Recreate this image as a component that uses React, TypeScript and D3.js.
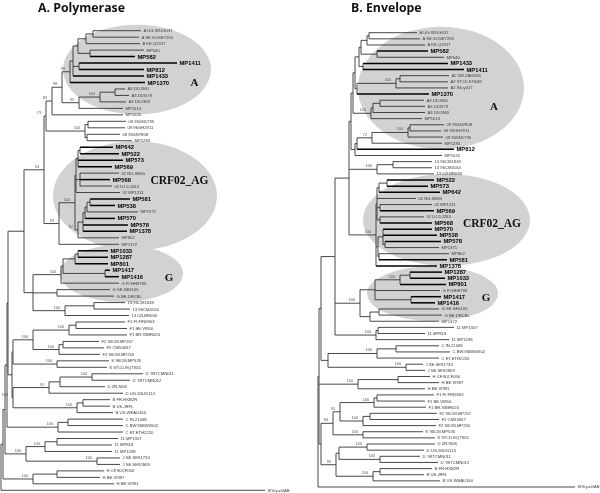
import React, { useMemo } from "react";
import * as d3 from "d3";

// Study isolates shown in bold
const STUDY_SAMPLES = ["MP582","MP1411","MP812","MP1433","MP1370","MP642","MP522","MP573","MP569","MP568","MP581","MP538","MP570","MP578","MP1378","MP1033","MP1287","MP801","MP1417","MP1416"];

// ---------- A. Polymerase tree (branch lengths in 0.001 subst./site, internal labels = bootstrap) ----------
const POL_AREF = "(((A UG.92UG037:48,A SE.SOSE7253:46):7,A KE.Q2317:54):8,(MP640:54,MP582:45):12)";
const POL_A = `((${POL_AREF}:5,(MP1411:98,MP812:65):6,MP1433:71):3,MP1370:75)99`;
const POL_A3 = "(((A3 DDJ360:10,A3 DDI579:14):15,A3 DDJ369:26)100:21,MP1014:44)95";
const POL_09 = "((09 95SN1795:38,09 96GH2911:37):3,(09 95SN7808:33,MP1283:45):2)100";
const POL_CRF02 = "((((MP642:33,MP522:39):2,MP573:45,MP569:34):2,(02 NG.IBNG:39,MP568:30,02 DJ.DJ263:32):4,02 MP1211:44):1,(((((MP581:40,MP538:25):3,MP1371:51):2,MP570:30):2,MP578:45,MP1378:44):5,MP802:41)92:3)100";
const POL_G = "((((MP1033:30,MP1287:30):3,MP801:33):12,(MP1417:5,MP1416:14):42):2,G FI.HH8793:58)100";
const POL_GREF = "(G SE.SE6165:53,G BE.DRCBL:57)";
const POL_13 = "((13 96CM1849:31,13 96CM4164:36):29,13 02LBR060:64)100";
const POL_F = "(((F1 FI.FIN9363:49,F1 BE.VI850:51):7,F1 BR.93BR020:58)100:36,((F2 96CM.MP257:36,F2 CM53657:41):4,F2 96CM.MP255:41)100:26)100";
const POL_K = "(K 96CM.MP535:52,K 97CD.EQTB11:50)100";
const POL_D = "(((D' 99TCMN011:51,D' 99TCMN012:38)100:32,D ZR.NDK:45):11,D UG.94UG114:74)92";
const POL_B = "((B FR.HXB2R:27,B US.JRFL:27):6,B US.WEAU160:36)100";
const POL_C = "((C IN.21068:55,C BW.96BW0502:55):10,C ET.ETH2220:65)100";
const POL_11J = "(((11 MP1307:61,11 MP818:55):12,11 MP1298:67)100:19,(J SE.SE91733:23,J SE.SE92809:23)100:71)100";
const POL_H = "((H CF.90CF056:47,H BE.VI997:43):24,H BE.VI991:81)100";

const POL_N98 = `(${POL_A}:8,${POL_A3}:17)98`;
const POL_N83 = `(${POL_N98}:10,MP1020:71)83`;
const POL_N73 = `(${POL_N83}:6,${POL_09}:39)73`;
const POL_N93 = `(${POL_CRF02}:16,MP1372:60)93`;
const POL_NX = `(${POL_N73}:2,${POL_N93}:15)94`;
const POL_G13 = `(${POL_G}:28,${POL_GREF}:24,${POL_13}:32)`;
const POL_N94 = `(${POL_NX}:20,${POL_G13}:9)`;
const POL_FK = `(${POL_F}:20,${POL_K}:44)`;
const POL_DB = `(${POL_D}:36,${POL_B}:64)100`;
const POL_I4 = `(${POL_FK}:1,${POL_DB}:1)`;
const POL_I3 = `(${POL_N94}:16,${POL_I4}:4)`;
const POL_I2 = `(${POL_I3}:1,${POL_C}:51)`;
const POL_I1 = `(${POL_I2}:2,${POL_11J}:21)`;
const POL_I0 = `(${POL_I1}:2,${POL_H}:30)`;
const POL_TREE = `(${POL_I0}:2,SIVcpzGAB:264)`;

const POL_HIGHLIGHTS = [
  { from: "A UG.92UG037", to: "MP1014", x0: 0.062, x1: 0.21 },
  { from: "MP642", to: "MP1372", x0: 0.052, x1: 0.216 },
  { from: "MP1033", to: "G BE.DRCBL", x0: 0.059, x1: 0.182 },
];
const POL_CALLOUTS = [
  { text: "A", leaf: "MP1370", at: 0.1935 },
  { text: "CRF02_AG", leaf: "MP568", at: 0.1785 },
  { text: "G", leaf: "MP1416", at: 0.168 },
];

// ---------- B. Envelope tree ----------
const ENV_RA2 = "((A UG.92UG037:48,A SE.SOSE7253:51):2,A KE.Q2317:58)";
const ENV_RA3 = "(MP582:51,MP640:67)";
const ENV_RA5 = "(MP1433:85,MP1411:101)";
const ENV_A2 = "((A2 ZM.ZAM184:49,A2 97CD.KTB48:48):4,A2 94cy017:52)100";
const ENV_A3 = "(((A3 DDJ360:44,A3 DDI579:45):7,A3 DDJ369:52):2,MP1014:51)100";
const ENV_09 = "((09 95SN7808:34,09 96GH2911:31):2,09 95SN1795:35)100";
const ENV_13 = "((13 96CM1849:39,13 96CM4164:39):16,13 02LBR060:57)100";
const ENV_RC5 = "(((MP522:47,MP573:41):8,MP642:61):2,02 NG.IBNG:39,(02 MP1211:52,MP569:54):3,(02 DJ.DJ263:44,MP568:52):3)";
const ENV_RC9 = "((MP570:49,MP538:54,(MP578:56,MP1371:54):2):5,(MP802:70,MP581:68):1)";
const ENV_G = "((((MP1287:32,MP1033:35):10,MP801:46)100:25,G FI.HH8793:65,(MP1417:30,MP1416:24):36):15,((G SE.SE6165:60,G BE.DRCBL:63):9,MP1372:69):10)100";
const ENV_11 = "((11 MP1307:76,11 MP818:47):2,11 MP1298:73)100";
const ENV_CJ = "(((C IN.21068:43,C BW.96BW0502:54):19,C ET.ETH2220:62)100:49,(J SE.SE91733:17,J SE.SE92809:19)100:78)";
const ENV_H = "((H CF.90CF056:32,H BE.VI997:41):40,H BE.VI991:67)100";
const ENV_F = "(((F1 FI.FIN9363:57,F1 BE.VI850:48):3,F1 BR.93BR020:52)100:34,((F2 96CM.MP257:67,F2 CM53657:69):7,F2 96CM.MP255:73)100:23)95";
const ENV_K = "(K 96CM.MP535:60,K 97CD.EQTB11:72)100";
const ENV_DB = "(((D ZR.NDK:68,D UG.94UG114:57)100:28,(D' 99TCMN011:40,D' 99TCMN012:58)100:41):3,((B FR.HXB2R:52,B US.JRFL:44):7,B US.WEAU160:67)100:37)99";

const ENV_RA4 = `(${ENV_RA2}:6,${ENV_RA3}:16)`;
const ENV_RA6 = `(${ENV_RA4}:2,${ENV_RA5}:4)`;
const ENV_RA7 = `(${ENV_A2}:39,MP1370:72)`;
const ENV_RA8 = `(${ENV_RA6}:4,${ENV_RA7}:2)`;
const ENV_RA9 = `(${ENV_RA8}:2,${ENV_A3}:18)`;
const ENV_RA10 = `(${ENV_09}:36,MP1283:70)72`;
const ENV_RA12 = `((${ENV_RA10}:15,MP812:97):2,MP1020:87)`;
const ENV_RA13 = `(${ENV_RA9}:2,${ENV_RA12}:4)`;
const ENV_CRF = `(${ENV_RC5}:1,${ENV_RC9}:2,MP1378:61)100`;
const ENV_RB = `(${ENV_RA13}:2,${ENV_13}:28,${ENV_CRF}:27)`;
const ENV_RN = `(${ENV_RB}:14,${ENV_G}:25,${ENV_11}:41)`;
const ENV_U = `(${ENV_RN}:14,${ENV_CJ}:7)`;
const ENV_FK = `(${ENV_F}:7,${ENV_K}:30)84`;
const ENV_LOWER = `(${ENV_FK}:12,${ENV_DB}:15)`;
const ENV_I = `(${ENV_U}:2,${ENV_H}:39,${ENV_LOWER}:2)`;
const ENV_TREE = `(${ENV_I}:1,SIVcpzGAB:257)`;

const ENV_HIGHLIGHTS = [
  { from: "A UG.92UG037", to: "MP1283", x0: 0.04, x1: 0.206 },
  { from: "MP522", to: "MP581", x0: 0.045, x1: 0.212 },
  { from: "MP1287", to: "G BE.DRCBL", x0: 0.049, x1: 0.18 },
];
const ENV_CALLOUTS = [
  { text: "A", leaf: "A3 DDI579", at: 0.176 },
  { text: "CRF02_AG", leaf: "MP568", at: 0.174 },
  { text: "G", leaf: "MP1417", at: 0.168 },
];

type TNode = { name: string; len: number; children: TNode[] };

function parseNewick(s: string): TNode {
  let i = 0;
  const skip = () => { while (i < s.length && /\s/.test(s[i])) i++; };
  function node(): TNode {
    skip();
    const n: TNode = { name: "", len: 0, children: [] };
    if (s[i] === "(") {
      i++;
      n.children.push(node());
      while (s[i] === ",") { i++; n.children.push(node()); }
      i++; // ')'
    }
    let name = "";
    while (i < s.length && !"(),:;".includes(s[i])) name += s[i++];
    n.name = name.trim();
    if (s[i] === ":") {
      i++;
      let num = "";
      while (i < s.length && !"(),;".includes(s[i])) num += s[i++];
      n.len = +num / 1000;
    }
    return n;
  }
  return node();
}

const SANS = "'Liberation Sans', Arial, Helvetica, sans-serif";
const SERIF = "'Liberation Serif', 'Times New Roman', serif";

function Tree({ newick, rootX, tipX, yTop, yBottom, highlights, callouts, title, titleX }: any) {
  const layout = useMemo(() => {
    const data = parseNewick(newick);
    const root: any = d3.hierarchy(data, (d: TNode) => (d.children.length ? d.children : null));
    root.eachBefore((n: any) => { n.dist = n.parent ? n.parent.dist + n.data.len : 0; });
    const leaves = root.leaves();
    const maxDist = d3.max(leaves, (l: any) => l.dist) as number;
    const x = d3.scaleLinear().domain([0, maxDist]).range([rootX, tipX]);
    const y = d3.scalePoint<string>().domain(leaves.map((l: any) => l.data.name)).range([yTop, yBottom]);
    root.eachAfter((n: any) => {
      n.px = x(n.dist);
      n.py = n.children ? (n.children[0].py + n.children[n.children.length - 1].py) / 2 : (y(n.data.name) as number);
    });
    return { root, x, y, nodes: root.descendants(), leaves };
  }, [newick]);

  const { x, y, nodes, leaves } = layout;
  const pad = 6;

  return (
    <g>
      {highlights.map((h: any, i: number) => {
        const y0 = (y(h.from) as number) - pad;
        const y1 = (y(h.to) as number) + pad;
        const xa = x(h.x0), xb = x(h.x1);
        return <ellipse key={"e" + i} cx={(xa + xb) / 2} cy={(y0 + y1) / 2} rx={(xb - xa) / 2} ry={(y1 - y0) / 2} fill="#d2d2d2" />;
      })}
      {nodes.filter((n: any) => n.parent).map((n: any, i: number) => {
        const bold = !n.children && STUDY_SAMPLES.includes(n.data.name);
        return <line key={"h" + i} x1={n.parent.px} x2={n.px} y1={n.py} y2={n.py} stroke={bold ? "#000" : "#333"} strokeWidth={bold ? 1.5 : 0.9} />;
      })}
      {nodes.filter((n: any) => n.children).map((n: any, i: number) => (
        <line key={"v" + i} x1={n.px} x2={n.px} y1={n.children[0].py} y2={n.children[n.children.length - 1].py} stroke="#333" strokeWidth={0.9} />
      ))}
      {leaves.map((n: any, i: number) => {
        const bold = STUDY_SAMPLES.includes(n.data.name);
        return (
          <text key={"t" + i} x={n.px + 2.5} y={n.py} dy="0.35em" fontFamily={SANS}
            fontSize={bold ? 5.8 : 4.2} fontWeight={bold ? 700 : 400} fill={bold ? "#000" : "#3a3a3a"}>
            {n.data.name}
          </text>
        );
      })}
      {nodes.filter((n: any) => n.children && n.data.name).map((n: any, i: number) => (
        <text key={"b" + i} x={n.px - 5} y={n.py - 2} textAnchor="end" fontFamily={SANS} fontSize={3.8} fill="#555">
          {n.data.name}
        </text>
      ))}
      {callouts.map((c: any, i: number) => (
        <text key={"c" + i} x={x(c.at)} y={y(c.leaf) as number} dy="0.35em" textAnchor="middle"
          fontFamily={SERIF} fontWeight={700} fontSize={c.text.length > 1 ? 11.5 : 11} fill="#111">
          {c.text}
        </text>
      ))}
      <text x={titleX} y={12} fontFamily="'Open Sans', sans-serif" fontWeight={700} fontSize={12.3} fill="#111">{title}</text>
    </g>
  );
}

export default function App() {
  return (
    <svg width={600} height={493} style={{ position: "absolute", left: 0, top: 0, background: "#fff", willChange: "transform" }}>
      <rect width={600} height={493} fill="#fff" />
      <Tree newick={POL_TREE} rootX={1} tipX={265} yTop={30.7} yBottom={490.3}
        highlights={POL_HIGHLIGHTS} callouts={POL_CALLOUTS} title="A. Polymerase" titleX={38} />
      <Tree newick={ENV_TREE} rootX={318} tipX={575} yTop={32.7} yBottom={487}
        highlights={ENV_HIGHLIGHTS} callouts={ENV_CALLOUTS} title="B. Envelope" titleX={351} />
    </svg>
  );
}
